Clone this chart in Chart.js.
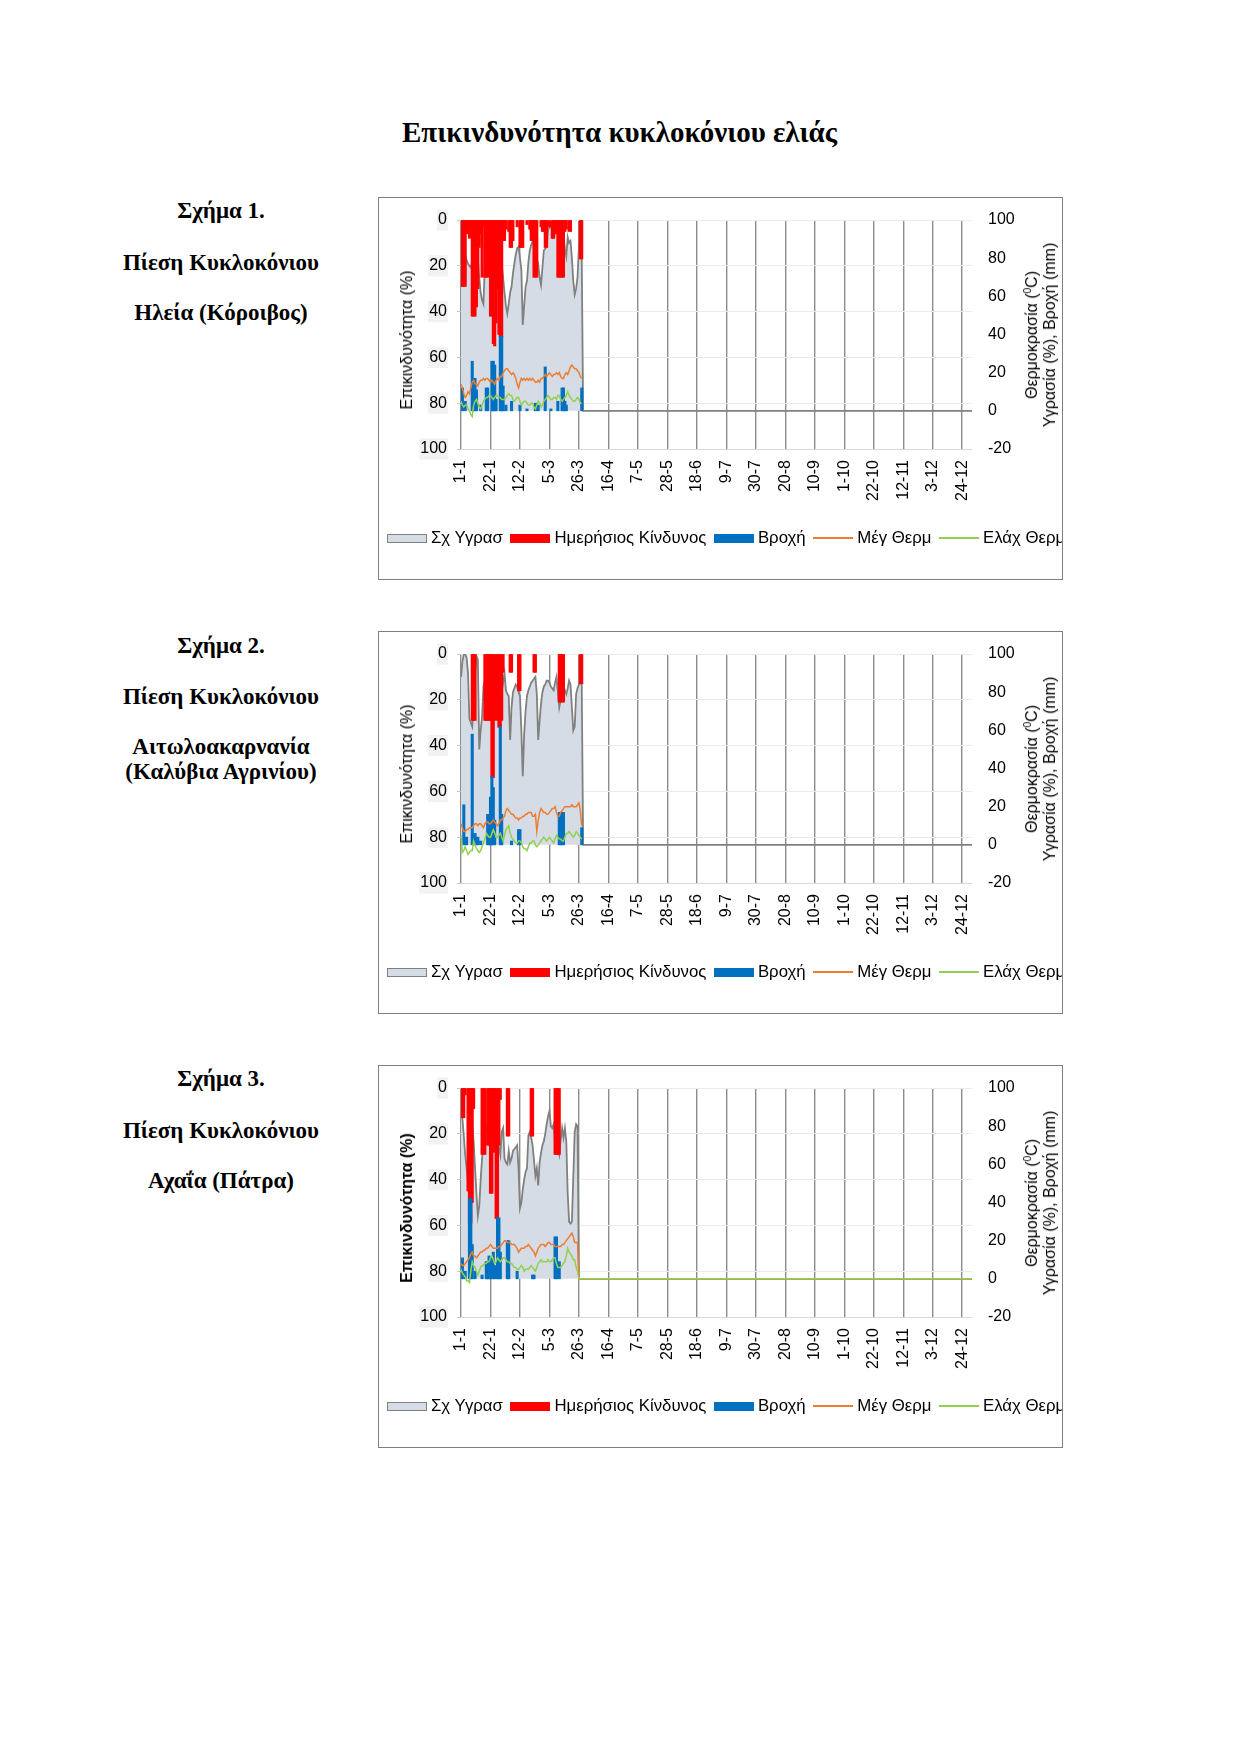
<!DOCTYPE html>
<html>
<head>
<meta charset="utf-8">
<script src="https://cdn.jsdelivr.net/npm/chart.js@4.4.0/dist/chart.umd.min.js"></script>
<style>
  body { margin: 0; background: #fff; }
  #page { position: relative; width: 1239px; height: 1754px; background: #fff; }
  .serif { position: absolute; font-family: "Liberation Serif", "Times New Roman", serif; font-weight: bold; color: #000; white-space: nowrap; }
  .title { left: 0; width: 1239px; text-align: center; font-size: 29px; line-height: 34px; top: 115px; }
  .cap { left: 90px; width: 262px; text-align: center; font-size: 23px; line-height: 28px; }
  .box { position: absolute; left: 378px; width: 685px; height: 383px; border: 1px solid #7f7f7f; box-sizing: border-box; overflow: hidden; }
  .box canvas { position: absolute; left: 0; top: 0; }
  .axt { position: absolute; font-family: "Liberation Sans", Arial, sans-serif; font-size: 16px; line-height: 18px; color: #000; white-space: nowrap; text-align: center; transform: translate(-50%, -50%) rotate(-90deg); }
  .axt sup { font-size: 10px; vertical-align: 6px; line-height: 0; }
  .legend { position: absolute; left: 8px; top: 330px; height: 20px; display: flex; align-items: center; font-family: "Liberation Sans", Arial, sans-serif; font-size: 16.8px; color: #000; white-space: nowrap; }
  .legend .mk { width: 40px; margin-right: 4px; box-sizing: border-box; }
  .legend .txt { margin-right: 7.5px; }
</style>
</head>
<body>
<div id="page">
  <div class="serif title">Επικινδυνότητα κυκλοκόνιου ελιάς</div>

  <div class="serif cap" style="top:197px">Σχήμα 1.</div>
  <div class="serif cap" style="top:249px">Πίεση Κυκλοκόνιου</div>
  <div class="serif cap" style="top:299px">Ηλεία (Κόροιβος)</div>
  <div class="box" id="fig1" style="top:197px"></div>

  <div class="serif cap" style="top:632px">Σχήμα 2.</div>
  <div class="serif cap" style="top:683px">Πίεση Κυκλοκόνιου</div>
  <div class="serif cap" style="top:733px">Αιτωλοακαρνανία</div>
  <div class="serif cap" style="top:758px">(Καλύβια Αγρινίου)</div>
  <div class="box" id="fig2" style="top:631px"></div>

  <div class="serif cap" style="top:1065px">Σχήμα 3.</div>
  <div class="serif cap" style="top:1117px">Πίεση Κυκλοκόνιου</div>
  <div class="serif cap" style="top:1167px">Αχαΐα (Πάτρα)</div>
  <div class="box" id="fig3" style="top:1065px"></div>
</div>

<script>
// x axis: days of the year, labelled every 21 days
var tickLabels = ['1-1','22-1','12-2','5-3','26-3','16-4','7-5','28-5','18-6','9-7','30-7','20-8','10-9','1-10','22-10','12-11','3-12','24-12'];
var LAST_DAY = 364;

var seriesNames = ['Σχ Υγρασ', 'Ημερήσιος Κίνδυνος', 'Βροχή', 'Μέγ Θερμ', 'Ελάχ Θερμ'];
var seriesColors = ['#d6dce5', '#ff0000', '#0070c0', '#ed7d31', '#92d050'];

// ---- Ηλεία (Κόροιβος), daily values from 1-1 ----
var iliaHum = [96,88,85,82,79,77,76,75,78,80, 82,80,79,70,62,58,56,77,80,76,
  82,78,74,70,76,84,93,88,80,77, 70,62,55,51,56,62,65,72,77,82,
  85,86,80,74,45,55,65,68,78,84, 87,89,86,84,80,77,70,66,75,84,
  85,86,95,96,97,95,94,93,95,96, 95,94,95,92,85,81,91,88,89,80,
  68,61,64,70,86,84,81,0];
var iliaRisk = [29,29,29,29,6,4,8,3,42,42, 42,38,30,12,6,25,3,25,25,25,
  8,42,42,54,55,45,30,50,51,51, 9,9,4,0,5,12,12,9,0,0,
  3,0,12,12,12,0,0,2,0,4, 9,9,25,25,25,0,0,3,5,5,
  12,12,0,3,0,8,8,3,6,25, 25,25,25,25,5,4,0,5,5,0,
  0,0,0,0,0,17,17];
var iliaRain = [0,12,0,5,0,0,0,0,26,17, 17,11,0,0,3,0,0,0,12,12,
  0,0,26,26,24,6,0,0,39,39, 13,0,3,0,0,0,5,0,0,0,
  0,0,3,0,0,0,0,1,0,0, 0,0,0,4,0,3,0,0,0,0,
  23,0,0,0,1,0,0,0,0,5, 0,0,12,12,5,3,0,0,0,0,
  0,0,0,0,0,0,12];
var iliaTmax = [14,12,9,7,8,10,9,12,15,16, 14,14,13,15,16,16,17,16,17,17,
  16,15,16,15,14,16,17,16,18,18, 20,21,22,22,21,20,19,20,19,17,
  14,12,15,17,16,17,16,17,16,17, 16,17,16,15,15,16,15,17,17,18,
  19,18,19,20,19,18,19,19,20,19, 20,18,17,17,19,20,19,21,23,24,
  23,22,22,21,20,18,17];
var iliaTmin = [5,3,2,3,3,1,0,-2,-3,3, 5,6,4,2,1,3,5,6,7,7,
  8,8,7,6,7,8,8,7,7,6, 6,6,7,8,9,8,8,6,5,6,
  7,7,5,3,4,5,5,4,3,3, 4,4,2,1,3,5,4,2,3,5,
  6,7,8,7,6,6,7,7,6,8, 8,6,5,6,7,8,10,8,7,6,
  5,5,6,7,6,4,4];

// ---- Αιτωλοακαρνανία (Καλύβια Αγρινίου) ----
var agrHum = [88,96,100,100,98,90,66,64,62,75, 90,99,97,50,60,67,83,86,80,74,
  82,88,76,70,78,85,76,72,72,80, 85,90,81,79,78,55,72,80,82,84,
  83,80,78,60,36,58,70,78,81,83, 85,86,87,88,79,55,65,74,80,83,
  84,86,86,85,83,82,81,85,88,80, 72,76,80,83,81,79,82,86,84,72,
  60,62,79,82,84,85,85,0];
var agrRisk = [0,0,0,0,0,0,0,0,29,29, 29,0,0,0,0,0,0,29,29,29,
  29,29,54,54,29,0,29,32,32,29, 8,0,0,0,0,8,8,0,0,0,
  0,16,16,0,0,0,0,0,0,0, 0,0,8,8,0,0,0,0,0,0,
  0,0,0,0,0,0,0,0,0,0, 21,21,21,21,0,0,0,0,0,0,
  0,0,0,0,0,13,13];
var agrRain = [0,0,21,4,4,0,0,0,58,5, 6,4,4,0,2,0,0,0,0,16,
  16,25,36,30,13,0,0,0,62,16, 0,0,0,0,0,0,2,0,0,0,
  0,8,8,0,0,0,0,0,0,0, 0,0,0,0,0,0,0,0,0,0,
  0,0,0,0,0,0,0,0,0,0, 17,17,17,17,0,0,0,0,0,0,
  0,0,0,0,0,0,9];
var agrTmax = [11,9,7,7,8,8,9,9,9,10, 11,11,10,11,11,10,9,11,12,12,
  11,11,12,13,12,11,10,11,13,13, 14,15,18,19,18,17,16,16,15,14,
  14,13,14,14,15,15,16,16,17,17, 17,15,15,16,7,13,17,19,18,17,
  17,16,16,17,18,19,19,20,17,15, 15,17,18,19,20,20,20,20,20,21,
  20,20,20,21,22,18,10];
var agrTmin = [5,-4,-3,-1,-3,-5,-4,-3,-3,2, 0,-2,-3,-4,-3,-1,1,3,6,5,
  4,4,6,8,6,4,4,5,6,4, 2,5,8,9,10,6,4,3,2,1,
  1,2,2,1,-1,-2,-2,-3,-1,1, 1,2,2,0,-1,0,1,2,3,4,
  3,2,3,4,3,2,1,3,5,4, 3,3,2,2,4,6,6,7,6,5,
  4,5,7,6,5,4,3];

// ---- Αχαΐα (Πάτρα) ----
var patHum = [88,84,75,65,58,51,72,88,80,72, 58,45,33,38,52,63,72,76,79,80,
  82,82,76,72,76,79,74,69,65,77, 79,63,61,60,67,61,63,67,68,69,
  70,58,37,40,47,52,56,58,75,77, 74,70,62,54,58,49,61,66,70,72,
  76,81,85,88,80,79,81,72,70,68, 65,73,79,74,79,72,45,30,29,30,
  54,77,81,80,0];
var patRisk = [13,13,13,3,0,45,59,59,50,9, 0,0,0,0,0,29,29,29,0,25,
  25,46,46,28,28,57,57,25,5,0, 0,0,0,21,21,0,0,0,0,0,
  0,0,0,0,0,0,0,0,0,0, 21,21,0,0,0,0,0,0,0,0,
  0,0,0,0,0,0,0,29,29,29, 29,0,0,0,0,0,0,0,0,0,
  0,0,0,0];
var patRain = [0,11,0,4,0,0,42,42,18,0, 4,0,0,0,0,2,0,0,9,9,
  12,11,0,14,7,0,32,32,14,0, 0,0,0,20,20,0,0,0,0,0,
  4,0,0,0,0,0,0,0,0,0, 0,2,2,0,0,0,0,0,0,0,
  0,0,0,0,0,0,0,22,22,0, 9,0,0,0,0,0,0,0,0,0,
  0,0,0,0];
var patTmax = [8,7,7,8,9,10,11,13,14,12, 12,11,12,13,14,14,15,15,16,16,
  17,18,17,16,16,16,16,17,17,18, 19,20,20,19,19,19,18,18,18,17,
  16,14,15,16,16,16,17,17,18,17, 16,15,14,12,14,16,17,18,18,18,
  17,18,19,19,18,18,18,17,17,17, 17,17,18,18,19,20,21,22,23,24,
  22,19,19,19,0];
var patTmin = [5,3,2,1,-1,-1,-2,4,9,7, 6,4,2,4,6,7,7,8,8,9,
  9,11,12,10,8,9,11,10,9,10, 11,11,10,9,9,8,8,7,6,6,
  5,5,6,7,6,4,5,5,5,6, 7,6,5,4,6,8,9,10,9,9,
  9,9,10,9,9,10,11,11,8,6, 6,6,7,8,9,12,16,14,13,12,
  10,10,6,4,0];

var figures = [
  {id: 'fig1', hum: iliaHum, risk: iliaRisk, rain: iliaRain, tmax: iliaTmax, tmin: iliaTmin, tail: ['hum'], bold: false},
  {id: 'fig2', hum: agrHum, risk: agrRisk, rain: agrRain, tmax: agrTmax, tmin: agrTmin, tail: ['hum'], bold: false},
  {id: 'fig3', hum: patHum, risk: patRisk, rain: patRain, tmax: patTmax, tmin: patTmin, tail: ['hum', 'tmax', 'tmin'], bold: true}
];

Chart.defaults.font.family = '"Liberation Sans", Arial, sans-serif';
Chart.defaults.font.size = 16;
Chart.defaults.color = '#000';

// day index -> point, optional flat 0 line to the end of the year
function pts(arr, toEnd) {
  var out = arr.map(function(v, i) { return {x: i, y: v}; });
  if (toEnd) out.push({x: LAST_DAY, y: 0});
  return out;
}
// bars: days with 0 get no bar at all
function barPts(arr) {
  return arr.map(function(v, i) { return {x: i, y: v === 0 ? null : v}; });
}

function buildLegend(box) {
  var lg = document.createElement('div');
  lg.className = 'legend';
  seriesNames.forEach(function(name, i) {
    var mk = document.createElement('span');
    mk.className = 'mk';
    if (i < 3) {
      mk.style.height = '9px';
      mk.style.background = seriesColors[i];
      if (i == 0) mk.style.border = '1.5px solid #808080';
    } else {
      mk.style.height = '2px';
      mk.style.background = seriesColors[i];
    }
    var t = document.createElement('span');
    t.className = 'txt';
    t.textContent = name;
    lg.appendChild(mk);
    lg.appendChild(t);
  });
  box.appendChild(lg);
}

function axisTitles(box, bold) {
  var l = document.createElement('div');
  l.className = 'axt';
  l.style.left = '28px';
  l.style.top = '142px';
  if (bold) l.style.fontWeight = 'bold';
  l.textContent = 'Επικινδυνότητα (%)';
  box.appendChild(l);
  var r = document.createElement('div');
  r.className = 'axt';
  r.style.left = '662px';
  r.style.top = '137px';
  r.innerHTML = 'Θερμοκρασία (<sup>0</sup>C)<br>Υγρασία (%), Βροχή (mm)';
  box.appendChild(r);
}

figures.forEach(function(f) {
  var box = document.getElementById(f.id);
  var cv = document.createElement('canvas');
  cv.width = 683; cv.height = 381;
  box.appendChild(cv);
  axisTitles(box, f.bold);
  buildLegend(box);

  new Chart(cv, {
    type: 'bar',
    data: {
      datasets: [
        {type: 'line', label: seriesNames[0], data: pts(f.hum, f.tail.indexOf('hum') >= 0), yAxisID: 'yW',
         borderColor: '#808080', borderWidth: 1.8, backgroundColor: seriesColors[0], fill: 'origin', pointRadius: 0, order: 5},
        {type: 'bar', label: seriesNames[1], data: barPts(f.risk), yAxisID: 'yR', backgroundColor: seriesColors[1],
         barThickness: 2.4, grouped: false, order: 4},
        {type: 'bar', label: seriesNames[2], data: barPts(f.rain), yAxisID: 'yW', backgroundColor: seriesColors[2],
         barThickness: 2.4, grouped: false, order: 3},
        {type: 'line', label: seriesNames[3], data: pts(f.tmax, f.tail.indexOf('tmax') >= 0), yAxisID: 'yW',
         borderColor: seriesColors[3], borderWidth: 1.5, pointRadius: 0, fill: false, order: 2},
        {type: 'line', label: seriesNames[4], data: pts(f.tmin, f.tail.indexOf('tmin') >= 0), yAxisID: 'yW',
         borderColor: seriesColors[4], borderWidth: 1.5, pointRadius: 0, fill: false, order: 1}
      ]
    },
    options: {
      responsive: false,
      animation: false,
      layout: {padding: {top: 22, right: 0, bottom: 69, left: 0}},
      plugins: {legend: {display: false}, tooltip: {enabled: false}},
      scales: {
        x: {
          type: 'linear', min: 0, max: LAST_DAY, offset: false,
          afterFit: function(s) { s.height = 61; },
          ticks: {stepSize: 21, includeBounds: false, autoSkip: false, minRotation: 90, maxRotation: 90, padding: 11,
                  callback: function(v) { return tickLabels[v / 21]; }},
          grid: {color: '#8c8c8c', lineWidth: 1.4, drawTicks: false, offset: false},
          border: {color: '#d9d9d9'}
        },
        yR: {
          position: 'left', reverse: true, min: 0, max: 100,
          afterFit: function(s) { s.width = 82; },
          ticks: {stepSize: 20, padding: 10, showLabelBackdrop: true, backdropColor: '#f2f2f2', backdropPadding: {x: 1, y: 1}},
          grid: {color: '#ebebeb', tickLength: 4, tickColor: '#c8c8c8'},
          border: {display: false}
        },
        yW: {
          position: 'right', min: -20, max: 100,
          afterFit: function(s) { s.width = 90; },
          ticks: {stepSize: 20, padding: 8},
          grid: {display: false},
          border: {display: false}
        }
      }
    }
  });
});
</script>
</body>
</html>
